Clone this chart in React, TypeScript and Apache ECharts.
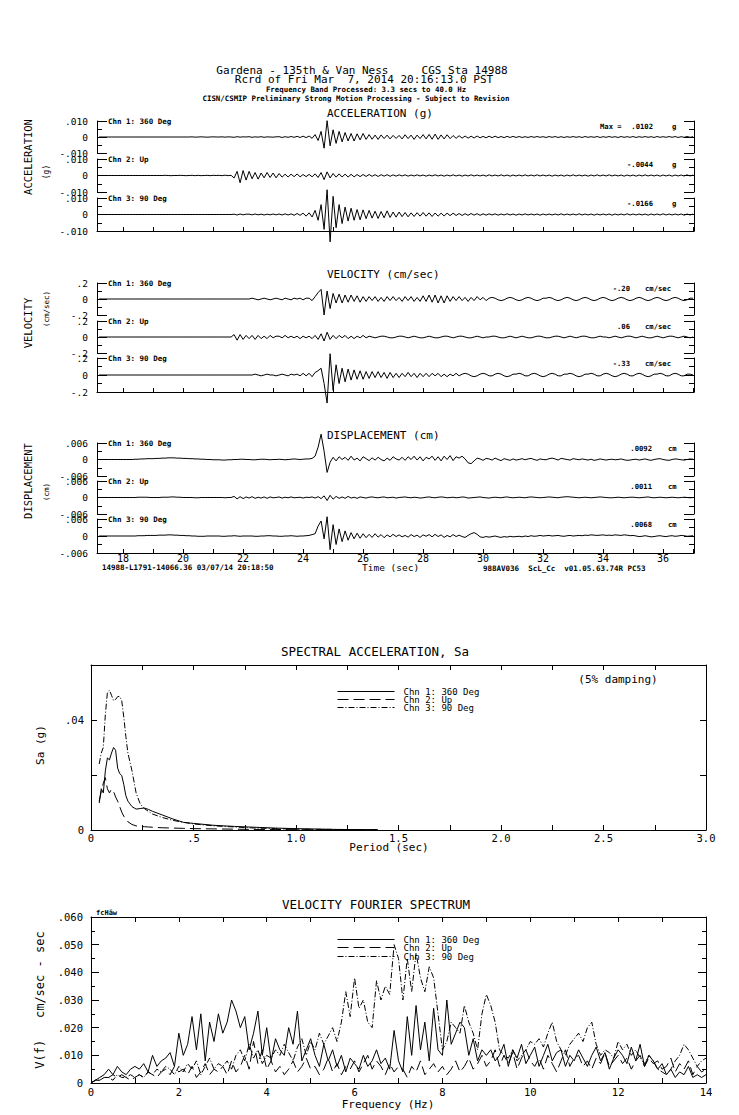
import React, { useEffect, useRef } from "react";
import * as echarts from "echarts";

const FONT = '"DejaVu Sans Mono", "Liberation Mono", monospace';

// ---------- time histories: samples every TIME_STEP s starting at TIME_START ----------
const TIME_START = 17.2;
const TIME_STEP = 0.1;
const TIME_MIN = 17.13;
const TIME_MAX = 37.03;

// acceleration, units of 0.0001 g
const ACC_CHN1 = [
  0,0,0,0,0,0,0,0,0,0, 0,0,0,0,0,0,0,0,0,0, 0,0,0,0,0,0,0,0,0,0,
  0,1,-1,0,1,0,-1,0,1,0, 0,1,-1,1,0,-2,2,-1,1,0, 2,-2,1,-1,2,-2,1,0,-1,1,
  2,-3,2,-2,3,-2,4,-3,5,-4, 6,-8,15,-22,35,-70,102,-55,45,-40,
  35,-30,28,-25,22,-25,20,-18,22,-15, 15,-14,12,-15,13,-10,12,-12,10,-9,
  10,-12,14,-10,12,-15,12,-10,15,-12, 16,-14,18,-15,13,-12,14,-10,9,-8,
  8,-7,6,-7,5,-6,6,-5,4,-5, 5,-4,5,-4,3,-4,4,-3,4,-3,
  3,-3,2,-3,3,-2,3,-2,2,-3, 3,-2,3,-3,2,-3,2,-2,3,-2,
  2,-3,3,-2,2,-2,3,-3,2,-2, 3,-2,2,-3,3,-2,2,-2,3,-3,
  2,-2,3,-2,2,-3,3,-2,2,-2, 3,-2,3,-3,2,-2,3,-2,2,
];
const ACC_CHN2 = [
  0,0,0,0,0,0,0,0,0,0, 0,0,0,0,0,0,0,0,0,0, 0,0,1,0,-1,0,0,1,0,-1,
  0,1,-1,1,-1,0,1,-1,1,0, 1,-1,2,-1,1,-15,25,-44,30,-28, 25,-20,18,-22,15,-14,18,-12,15,-14,
  12,-10,8,-9,8,-7,9,-8,6,-7, 7,-8,10,-12,18,-25,22,-15,12,-10,
  10,-9,8,-9,7,-8,6,-7,6,-6, 6,-5,5,-6,5,-4,5,-5,4,-4,
  4,-3,4,-4,3,-3,4,-3,3,-4, 3,-3,4,-3,3,-4,3,-3,4,-3,
  3,-4,3,-3,4,-3,3,-3,3,-4, 4,-3,3,-3,4,-3,3,-4,3,-3,
  3,-3,4,-3,3,-3,4,-3,3,-3, 3,-4,3,-3,3,-4,3,-3,4,-3,
  3,-3,3,-4,3,-3,4,-3,3,-3, 4,-3,3,-3,3,-4,3,-3,3,-4,
  3,-3,4,-3,3,-3,3,-4,3,-3, 3,-4,3,-3,3,-3,4,-3,3,
];
const ACC_CHN3 = [
  0,0,0,0,0,0,0,0,0,0, 0,0,0,0,0,0,0,0,0,0, 0,0,0,0,0,0,0,0,0,0,
  0,0,0,0,0,0,0,0,0,0, 0,0,0,0,0,2,-3,3,-2,2, 2,-2,3,-2,2,-3,2,-2,3,-2,
  3,-3,4,-3,4,-5,6,-5,8,-10, 10,-15,25,-35,60,-90,150,-166,110,-80,
  60,-55,45,-40,38,-35,30,-32,28,-25, 25,-22,20,-24,18,-20,22,-18,15,-16,
  15,-13,12,-14,10,-12,11,-10,12,-10, 10,-12,9,-10,8,-9,8,-7,8,-6,
  6,-6,5,-5,6,-4,5,-5,4,-4, 4,-3,4,-4,3,-3,4,-3,3,-4,
  3,-3,4,-3,3,-3,3,-4,3,-3, 3,-3,3,-3,4,-3,3,-3,3,-3,
  4,-3,3,-3,3,-4,3,-3,3,-3, 3,-4,3,-3,3,-3,4,-3,3,-3,
  3,-3,3,-4,3,-3,3,-3,4,-3, 3,-3,3,-3,3,-4,3,-3,3,
];

// velocity, units of 0.01 cm/sec
const VEL_CHN1 = [
  0,0,0,0,0,0,0,0,0,0, 0,0,0,0,0,0,0,0,0,0, 0,0,0,0,0,0,0,0,0,0,
  0,0,0,0,0,0,0,0,0,0, 0,0,0,0,0,0,0,0,0,0, 0,1,0,-1,0,1,0,-1,0,1,
  0,-1,1,0,-1,1,0,1,-1,1, 1,-2,3,8,12,-20,10,-12,7,-5,
  6,-5,5,-4,5,-3,4,-4,3,-3, 3,-2,3,-3,2,-3,3,-2,3,-2,
  2,-3,3,-2,3,-3,2,-3,4,-3, 5,-4,5,-5,4,-5,4,-3,3,-2,
  3,-2,2,-3,2,-2,3,-1,2,-2, 1,2,1,-1,-2,-1,1,2,1,-1,
  -2,-1,1,2,1,-1,-2,-1,1,1, 2,1,-1,-2,-1,1,2,1,-1,-2,
  -1,1,2,1,-1,-2,-1,1,2,1, -1,-2,-1,1,2,1,-1,-2,-1,1,
  2,1,-1,-2,-1,1,2,1,-1,-2, -1,1,2,1,-1,-2,-1,1,1,
];
const VEL_CHN2 = [
  0,0,0,0,0,0,0,0,0,0, 0,0,0,0,0,0,0,0,0,0, 0,0,0,0,0,0,0,0,0,0,
  0,0,0,0,0,0,0,0,0,0, 0,0,0,0,0,3,-4,3,-3,2, -2,2,-3,2,-2,1,-2,2,-1,1,
  1,-1,2,-1,1,-1,1,-2,1,-1, 1,-2,2,-3,4,-5,6,-3,2,-2,
  2,-1,2,-2,1,-2,1,-1,2,-1, 1,0,-1,0,1,1,0,-1,-1,0,
  1,1,0,-1,0,1,0,-1,-1,0, 1,0,-1,-1,0,1,1,0,-1,0,
  1,1,0,-1,-1,0,1,0,-1,0, 0,1,1,0,-1,-1,0,1,0,-1,
  0,1,0,-1,-1,0,1,1,0,-1, -1,0,1,1,0,-1,0,1,0,-1,
  0,1,1,0,-1,-1,0,1,0,0, -1,0,1,0,-1,0,1,1,0,-1,
  0,1,0,-1,-1,0,1,0,-1,0, 1,1,0,-1,0,1,0,-1,0,
];
const VEL_CHN3 = [
  0,0,0,0,0,0,0,0,0,0, 0,0,0,0,0,0,0,0,0,0, 0,0,0,0,0,0,0,0,0,0,
  0,0,0,0,0,0,0,0,0,0, 0,0,0,0,0,0,0,0,0,0, 0,0,1,0,-1,0,1,0,0,-1,
  0,1,0,-1,1,0,1,-1,2,-1, 2,-2,3,5,8,-10,-33,25,-18,12,
  -10,8,-8,7,-6,6,-5,5,-5,4, -4,4,-3,4,-3,3,-4,3,-3,2,
  -3,2,-2,3,-2,2,-3,2,-2,2, -2,2,-1,2,-2,1,-2,1,-1,2,
  -1,1,2,1,-1,-2,-1,1,2,1, -1,-1,1,2,1,-1,-2,-1,1,1,
  2,1,-1,-1,1,2,1,-1,-2,-1, 1,2,1,-1,-1,1,1,2,1,-1,
  -2,-1,1,1,2,1,-1,-1,1,2, 1,-1,-2,-1,1,2,1,-1,-1,1,
  2,1,-1,-2,-1,1,1,2,1,-1, -1,1,2,1,-1,-1,1,1,0,
];

// displacement, units of 0.0001 cm
const DIS_CHN1 = [
  0,0,0,0,0,0,0,0,0,0, 0,0,1,1,2,2,3,3,3,4, 4,5,5,6,6,6,5,5,4,4,
  3,3,2,2,1,1,0,0,-1,-1, -1,-2,-2,-1,-1,0,0,1,1,0, 0,-1,-1,0,1,1,0,-1,0,0,
  1,0,-1,0,1,2,1,0,1,2, 2,4,12,45,92,30,-47,-10,8,-5,
  10,0,8,-3,12,-2,5,-5,10,3, -4,6,-2,8,0,-5,5,-3,10,2,
  -2,8,-3,10,0,12,-2,10,-5,8, 2,12,-3,10,-5,12,0,14,-4,10,
  5,12,2,-12,-15,-5,5,2,-3,4, 2,-2,5,0,-4,3,0,-3,2,-2,
  0,3,-1,2,4,0,-3,2,0,-1, 3,5,2,-2,4,2,0,-2,3,1,
  -1,2,0,-2,1,-3,-1,2,0,-2, 0,1,-1,0,2,-1,-3,-2,0,1,
  -2,0,2,-1,-3,0,2,3,0,-2, -3,0,2,1,-1,-2,0,2,1,
];
const DIS_CHN2 = [
  0,0,0,0,0,0,0,0,0,0, 0,0,0,1,1,1,1,0,0,0, 0,1,1,1,2,2,1,1,0,0,
  0,0,-1,-1,0,0,0,0,0,0, 0,0,-1,0,0,4,-5,3,-4,2, -2,3,-3,1,-2,2,-3,2,-1,0,
  2,-2,1,-1,2,-1,0,1,-2,1, 0,2,-2,3,-4,6,-11,8,-6,4,
  -3,2,-3,4,-2,1,-3,2,0,-2, 1,2,0,-1,1,2,-1,0,1,-2,
  0,1,2,0,-1,1,0,-2,-1,1, 2,0,-1,1,2,1,-1,0,1,-1,
  0,2,1,-2,-1,0,1,2,0,-1, -2,0,1,0,-1,1,2,0,-1,0,
  1,0,-1,1,2,1,0,-1,0,1, 2,1,0,-1,1,2,3,2,1,0,
  -1,0,1,0,-1,0,1,2,1,0, -1,-1,0,1,0,-1,0,1,1,0,
  -1,0,1,2,0,-1,0,1,0,-1, 0,1,0,-1,0,1,0,-1,0,
];
const DIS_CHN3 = [
  0,0,0,0,0,0,0,0,0,0, 0,0,0,1,1,1,2,2,2,2, 3,3,3,4,4,3,3,2,2,1,
  1,0,0,-1,-1,-1,0,0,0,0, 0,-1,-1,0,0,1,0,-1,0,0, 0,0,-1,-1,0,0,1,1,0,0,
  -1,-1,0,0,1,0,-1,0,0,1, 2,5,8,35,53,-10,68,-48,40,-30,
  25,-20,18,-15,12,-10,10,-8,8,-6, 6,-5,8,-4,5,-6,4,-3,6,-2,
  4,-3,2,-4,5,-2,3,-5,4,-1, 5,-3,6,-2,4,-5,2,-3,5,-2,
  3,-2,-5,2,8,12,6,-3,-5,-2, -4,-2,0,-3,-5,-2,-4,-1,-3,-2,
  -1,-3,0,-2,1,-1,0,2,0,1, 2,0,1,2,0,-1,1,2,0,1,
  2,1,3,2,4,3,2,3,4,2, 3,2,4,3,2,4,3,1,2,0,
  -2,-1,1,-1,-3,-2,0,1,-1,-2, 0,1,-1,0,2,1,-1,0,1,
];

const CHANNELS = ["Chn 1: 360 Deg", "Chn 2: Up", "Chn 3: 90 Deg"];
const PEAK_ACC = [".0102", "-.0044", "-.0166"];
const PEAK_VEL = ["-.20", ".06", "-.33"];
const PEAK_DIS = [".0092", ".0011", ".0068"];

// ---------- spectral acceleration (5% damping) ----------
const SA_PERIOD = [0.04,0.05,0.06,0.07,0.08,0.09,0.10,0.11,0.12,0.13,0.14,0.15,0.16,0.17,0.18,0.20,0.22,0.24,0.26,0.28,0.30,0.35,0.40,0.45,0.50,0.60,0.70,0.80,0.90,1.00,1.20,1.40];
const SA_CHN1 = [0.0098,0.0150,0.0135,0.0215,0.0262,0.0255,0.0280,0.0300,0.0290,0.0225,0.0205,0.0198,0.0165,0.0125,0.0105,0.0085,0.0076,0.0078,0.0080,0.0075,0.0068,0.0054,0.0040,0.0028,0.0024,0.0017,0.0013,0.0010,0.0007,0.0005,0.0002,0.0001];
const SA_CHN2 = [0.0105,0.0140,0.0170,0.0190,0.0150,0.0135,0.0148,0.0140,0.0120,0.0105,0.0085,0.0065,0.0050,0.0038,0.0030,0.0020,0.0015,0.0013,0.0012,0.0011,0.0010,0.0008,0.0007,0.0006,0.0005,0.0004,0.0003,0.0002,0.0002,0.0001,0.0001,0.0000];
const SA_CHN3 = [0.0240,0.0280,0.0300,0.0420,0.0500,0.0508,0.0490,0.0470,0.0475,0.0485,0.0486,0.0470,0.0410,0.0340,0.0280,0.0215,0.0135,0.0095,0.0078,0.0068,0.0058,0.0045,0.0035,0.0028,0.0022,0.0015,0.0011,0.0007,0.0005,0.0003,0.0002,0.0001];

// ---------- velocity Fourier spectrum: every 0.1 Hz from 0 Hz, units of 0.001 cm/sec-sec ----------
const FREQ_STEP = 0.1;
const FOURIER_CHN1 = [0,
  1,2,3,5,3,6,4,3,5,6, 5,7,4,10,6,8,9,11,6,18, 10,14,24,12,25,8,22,15,25,18,
  22,30,26,20,24,12,18,26,10,20, 8,16,12,10,20,14,26,8,12,16, 10,6,14,8,12,6,10,4,9,7,
  5,10,6,8,12,7,9,5,19,8, 4,24,10,28,12,22,8,27,12,10, 30,14,18,22,20,10,16,8,12,10,
  12,8,10,14,6,12,9,14,7,10, 13,6,10,14,8,11,12,6,10,8, 12,9,6,10,13,8,11,5,9,12,
  10,7,13,8,14,6,10,8,5,7, 3,5,2,4,3,6,2,3,2,3,
];
const FOURIER_CHN2 = [0,
  1,1,2,2,3,2,3,2,1,2, 3,2,4,3,2,4,5,3,6,4, 5,3,6,2,4,7,3,5,4,6,
  3,8,4,6,10,5,15,7,12,5, 8,4,6,3,5,8,4,6,9,5, 6,3,5,9,4,7,3,6,5,8,
  4,7,10,5,8,6,3,7,4,6, 5,2,6,4,8,3,5,7,4,6, 3,5,8,4,6,9,5,7,10,6,
  8,12,6,10,7,11,5,9,12,8, 6,9,5,10,7,4,8,12,6,9, 10,6,8,5,9,7,11,6,8,10,
  7,9,5,8,10,6,9,7,8,5, 6,9,4,7,5,8,3,6,4,5,
];
const FOURIER_CHN3 = [0,
  1,1,2,2,1,3,2,2,3,2, 3,2,4,3,5,4,6,5,3,6, 4,7,5,8,3,6,9,5,7,6,
  8,5,10,12,8,14,9,12,7,10, 9,12,10,14,11,8,13,16,10,15, 12,18,14,17,20,15,22,33,24,38,
  27,30,22,20,37,30,35,32,50,45, 30,45,33,47,38,33,42,38,25,12, 15,22,20,18,28,22,18,12,25,32,
  28,22,12,10,9,12,8,10,12,15, 14,16,13,18,22,15,12,10,14,16, 18,15,20,22,14,10,12,11,9,15,
  12,14,10,12,9,7,10,8,5,4, 3,5,8,10,14,12,9,6,8,9,
];

// ---------- layout ----------
const PLOT_LEFT = 97;
const PLOT_WIDTH = 597;
const PANEL_BOXES = [
  [121, 32], [159, 33], [198, 33],
  [283, 32], [321, 32], [358, 34],
  [443, 33], [481, 33], [519, 34],
];
const SA_BOX = { left: 91, width: 615, top: 665, height: 165 };
const FS_BOX = { left: 91, width: 615, top: 917, height: 166 };
const LINE_DASH: any[] = ["solid", [11, 5], [6, 2, 1, 2]];

const t2 = (v: number) => Math.round(v * 100) / 100;
const timeSeries = (arr: number[]) => arr.map((v, i) => [t2(TIME_START + i * TIME_STEP), v]);

const fmtAcc = (v: number) => (v === 0 ? "0" : (v / 10000).toFixed(3).replace("0.", "."));
const fmtVel = (v: number) => (v === 0 ? "0" : (v / 100).toFixed(1).replace("0.", "."));
const fmtDis = (v: number) => (v === 0 ? "0" : (v / 10000).toFixed(3).replace("0.", "."));

function txt(text: string, x: number, y: number, size: number, o: any = {}) {
  const font = `${o.bold ? "bold " : ""}${size}px ${FONT}`;
  return {
    type: "text",
    x,
    y,
    rotation: o.rot || 0,
    silent: true,
    z: 10,
    style: {
      text,
      font,
      fill: "#000",
      textAlign: o.align || "left",
      align: o.align || "left",
      textVerticalAlign: "middle",
      verticalAlign: "middle",
    },
  };
}

function buildOption() {
  const grid: any[] = [];
  const xAxis: any[] = [];
  const yAxis: any[] = [];
  const series: any[] = [];
  const graphic: any[] = [];
  const black = { color: "#000", width: 1 };

  const groups = [
    { data: [ACC_CHN1, ACC_CHN2, ACC_CHN3], half: 100, fmt: fmtAcc, peaks: PEAK_ACC, unit: "g", valRight: 653, unitLeft: 672 },
    { data: [VEL_CHN1, VEL_CHN2, VEL_CHN3], half: 20, fmt: fmtVel, peaks: PEAK_VEL, unit: "cm/sec", valRight: 630, unitLeft: 645 },
    { data: [DIS_CHN1, DIS_CHN2, DIS_CHN3], half: 60, fmt: fmtDis, peaks: PEAK_DIS, unit: "cm", valRight: 652, unitLeft: 668 },
  ];

  groups.forEach((gr, gi) => {
    gr.data.forEach((arr, ci) => {
      const g = gi * 3 + ci;
      const [top, height] = PANEL_BOXES[g];
      const isBottom = ci === 2;
      const isLast = gi === 2 && ci === 2;
      grid.push({ left: PLOT_LEFT, width: PLOT_WIDTH, top, height, outerBoundsMode: "none", containLabel: false });
      xAxis.push({
        type: "value",
        gridIndex: g,
        min: TIME_MIN,
        max: TIME_MAX,
        splitNumber: 20,
        minInterval: 1,
        maxInterval: 1,
        position: "bottom",
        show: isBottom,
        axisLine: { show: isBottom, onZero: false, lineStyle: black },
        axisTick: { show: isBottom, inside: true, length: 4, lineStyle: black },
        axisLabel: {
          show: isLast,
          margin: 0,
          color: "#000",
          fontFamily: FONT,
          fontSize: 10,
          formatter: (v: number) => {
            const r = Math.round(v);
            return Math.abs(v - r) < 1e-6 && r % 2 === 0 ? String(r) : "";
          },
        },
        splitLine: { show: false },
      });
      ["left", "right"].forEach((pos) => {
        yAxis.push({
          type: "value",
          gridIndex: g,
          position: pos,
          min: -gr.half,
          max: gr.half,
          interval: gr.half,
          axisLine: { show: true, onZero: false, lineStyle: black },
          axisTick: { show: true, inside: true, length: 10, lineStyle: black },
          minorTick: { show: true, splitNumber: 2, length: 5, lineStyle: black },
          splitLine: { show: false },
          minorSplitLine: { show: false },
          axisLabel: {
            show: pos === "left",
            margin: 9,
            color: "#000",
            fontFamily: FONT,
            fontSize: 9.5,
            formatter: gr.fmt,
          },
        });
      });
      series.push({
        type: "line",
        name: `trace${g}`,
        xAxisIndex: g,
        yAxisIndex: g * 2,
        data: timeSeries(arr),
        symbol: "none",
        showSymbol: false,
        clip: false,
        silent: true,
        lineStyle: { color: "#000", width: 1 },
        z: 3,
      });
      // panel annotations
      graphic.push(txt(CHANNELS[ci], 108, top, 7.5, { bold: true }));
      graphic.push(txt(gr.peaks[ci], gr.valRight, top + 5, 7.2, { bold: true, align: "right" }));
      graphic.push(txt(gr.unit, gr.unitLeft, top + 5, 7.2, { bold: true }));
      if (g === 0) graphic.push(txt("Max =", 600, top + 5, 7.2, { bold: true }));
    });
  });

  // ---- spectral acceleration ----
  const saGrid = grid.length;
  grid.push({ ...SA_BOX, outerBoundsMode: "none", containLabel: false });
  const saX = xAxis.length;
  ["bottom", "top"].forEach((pos) =>
    xAxis.push({
      type: "value",
      gridIndex: saGrid,
      position: pos,
      min: 0,
      max: 3,
      interval: 0.25,
      axisLine: { show: true, onZero: false, lineStyle: black },
      axisTick: { show: true, inside: true, length: 5, lineStyle: black },
      splitLine: { show: false },
      axisLabel: {
        show: pos === "bottom",
        margin: 2,
        color: "#000",
        fontFamily: FONT,
        fontSize: 10.5,
        formatter: (v: number) => {
          const k = Math.round(v * 2);
          if (Math.abs(v * 2 - k) > 1e-6) return "";
          if (k === 0) return "0";
          if (k === 1) return ".5";
          return (k / 2).toFixed(1);
        },
      },
    })
  );
  const saY = yAxis.length;
  ["left", "right"].forEach((pos) =>
    yAxis.push({
      type: "value",
      gridIndex: saGrid,
      position: pos,
      min: 0,
      max: 0.06,
      interval: 0.02,
      axisLine: { show: true, onZero: false, lineStyle: black },
      axisTick: { show: true, inside: true, length: 6, lineStyle: black },
      splitLine: { show: false },
      axisLabel: {
        show: pos === "left",
        margin: 7,
        color: "#000",
        fontFamily: FONT,
        fontSize: 10.5,
        formatter: (v: number) => (Math.abs(v) < 1e-9 ? "0" : Math.abs(v - 0.04) < 1e-9 ? ".04" : ""),
      },
    })
  );
  [SA_CHN1, SA_CHN2, SA_CHN3].forEach((arr, ci) =>
    series.push({
      type: "line",
      name: CHANNELS[ci],
      xAxisIndex: saX,
      yAxisIndex: saY,
      data: SA_PERIOD.map((p, i) => [p, arr[i]]),
      symbol: "none",
      showSymbol: false,
      silent: true,
      lineStyle: { color: "#000", width: 1, type: LINE_DASH[ci] },
      itemStyle: { color: "#000" },
    })
  );

  // ---- Fourier spectrum ----
  const fsGrid = grid.length;
  grid.push({ ...FS_BOX, outerBoundsMode: "none", containLabel: false });
  const fsX = xAxis.length;
  ["bottom", "top"].forEach((pos) =>
    xAxis.push({
      type: "value",
      gridIndex: fsGrid,
      position: pos,
      min: 0,
      max: 14,
      interval: 1,
      axisLine: { show: true, onZero: false, lineStyle: black },
      axisTick: { show: true, inside: true, length: 5, lineStyle: black },
      splitLine: { show: false },
      axisLabel: {
        show: pos === "bottom",
        margin: 3,
        color: "#000",
        fontFamily: FONT,
        fontSize: 10.5,
        formatter: (v: number) => (Math.round(v) % 2 === 0 ? String(Math.round(v)) : ""),
      },
    })
  );
  const fsY = yAxis.length;
  ["left", "right"].forEach((pos) =>
    yAxis.push({
      type: "value",
      gridIndex: fsGrid,
      position: pos,
      min: 0,
      max: 0.06,
      interval: 0.01,
      axisLine: { show: true, onZero: false, lineStyle: black },
      axisTick: { show: true, inside: true, length: 8, lineStyle: black },
      minorTick: { show: true, splitNumber: 2, length: 4, lineStyle: black },
      splitLine: { show: false },
      minorSplitLine: { show: false },
      axisLabel: {
        show: pos === "left",
        margin: 8,
        color: "#000",
        fontFamily: FONT,
        fontSize: 10.5,
        formatter: (v: number) => (v < 1e-9 ? "0" : "." + String(Math.round(v * 1000)).padStart(3, "0")),
      },
    })
  );
  [FOURIER_CHN1, FOURIER_CHN2, FOURIER_CHN3].forEach((arr, ci) =>
    series.push({
      type: "line",
      name: CHANNELS[ci],
      xAxisIndex: fsX,
      yAxisIndex: fsY,
      data: arr.map((v, i) => [t2(i * FREQ_STEP), v / 1000]),
      symbol: "none",
      showSymbol: false,
      silent: true,
      lineStyle: { color: "#000", width: 1, type: LINE_DASH[ci] },
      itemStyle: { color: "#000" },
    })
  );

  // legends (one per entry, stacked tightly like the original)
  const legend: any[] = [];
  const legendRows = [
    [687, 695, 703],
    [935, 943, 952],
  ];
  legendRows.forEach((rows) =>
    rows.forEach((top, ci) =>
      legend.push({
        show: true,
        data: [CHANNELS[ci]],
        left: 337,
        top,
        padding: 0,
        itemGap: 0,
        itemWidth: 57,
        itemHeight: 8,
        selectedMode: false,
        lineStyle: { width: 1, color: "#000", type: LINE_DASH[ci] },
        itemStyle: { color: "rgba(0,0,0,0)", borderColor: "rgba(0,0,0,0)", borderWidth: 0, opacity: 0 },
        textStyle: { fontFamily: FONT, fontSize: 9, color: "#000", padding: [0, 0, 0, 4] },
      })
    )
  );

  // headers and labels
  graphic.push(txt("Gardena - 135th & Van Ness     CGS Sta 14988", 362, 70, 11, { align: "center" }));
  graphic.push(txt("Rcrd of Fri Mar  7, 2014 20:16:13.0 PST", 364, 79, 11, { align: "center" }));
  graphic.push(txt("Frequency Band Processed: 3.3 secs to 40.0 Hz", 366, 89.5, 7.4, { align: "center", bold: true }));
  graphic.push(txt("CISN/CSMIP Preliminary Strong Motion Processing - Subject to Revision", 356, 98, 7.4, { align: "center", bold: true }));
  graphic.push(txt("ACCELERATION (g)", 327, 113, 11));
  graphic.push(txt("VELOCITY (cm/sec)", 327, 274, 11));
  graphic.push(txt("DISPLACEMENT (cm)", 327, 435, 11));
  graphic.push(txt("ACCELERATION", 28, 157, 10.5, { align: "center", rot: Math.PI / 2 }));
  graphic.push(txt("(g)", 46, 172, 8, { align: "center", rot: Math.PI / 2 }));
  graphic.push(txt("VELOCITY", 28, 323, 10.5, { align: "center", rot: Math.PI / 2 }));
  graphic.push(txt("(cm/sec)", 46, 309, 7.5, { align: "center", rot: Math.PI / 2 }));
  graphic.push(txt("DISPLACEMENT", 28, 481, 10.5, { align: "center", rot: Math.PI / 2 }));
  graphic.push(txt("(cm)", 46, 492, 7.5, { align: "center", rot: Math.PI / 2 }));
  graphic.push(txt("Time (sec)", 362, 567, 9.5));
  graphic.push(txt("14988-L1791-14066.36 03/07/14 20:18:50", 102, 567, 7.5, { bold: true }));
  graphic.push(txt("988AV036  ScL_Cc  v01.05.63.74R PC53", 483, 568, 7.5, { bold: true }));

  graphic.push(txt("SPECTRAL ACCELERATION, Sa", 375, 651, 12.5, { align: "center" }));
  graphic.push(txt("(5% damping)", 618, 679, 11, { align: "center" }));
  graphic.push(txt("Sa (g)", 40, 745, 11, { align: "center", rot: Math.PI / 2 }));
  graphic.push(txt("Period (sec)", 389, 847, 11, { align: "center" }));

  graphic.push(txt("VELOCITY FOURIER SPECTRUM", 376, 904, 12.5, { align: "center" }));
  graphic.push(txt("fcHäw", 96, 913, 7, { bold: true }));
  graphic.push(txt("V(f)   cm/sec - sec", 40, 1000, 12, { align: "center", rot: Math.PI / 2 }));
  graphic.push(txt("Frequency (Hz)", 388, 1104, 11, { align: "center" }));

  return {
    animation: false,
    backgroundColor: "#fff",
    textStyle: { fontFamily: FONT, color: "#000" },
    tooltip: { show: false },
    grid,
    xAxis,
    yAxis,
    series,
    legend,
    graphic,
  };
}

export default function App() {
  const ref = useRef<HTMLDivElement>(null);
  useEffect(() => {
    if (!ref.current) return;
    const chart = echarts.init(ref.current, null, { renderer: "svg" });
    chart.setOption(buildOption() as any);
    return () => chart.dispose();
  }, []);
  return (
    <div
      ref={ref}
      style={{ position: "absolute", left: 0, top: 0, width: 739, height: 1115, background: "#fff" }}
    />
  );
}
